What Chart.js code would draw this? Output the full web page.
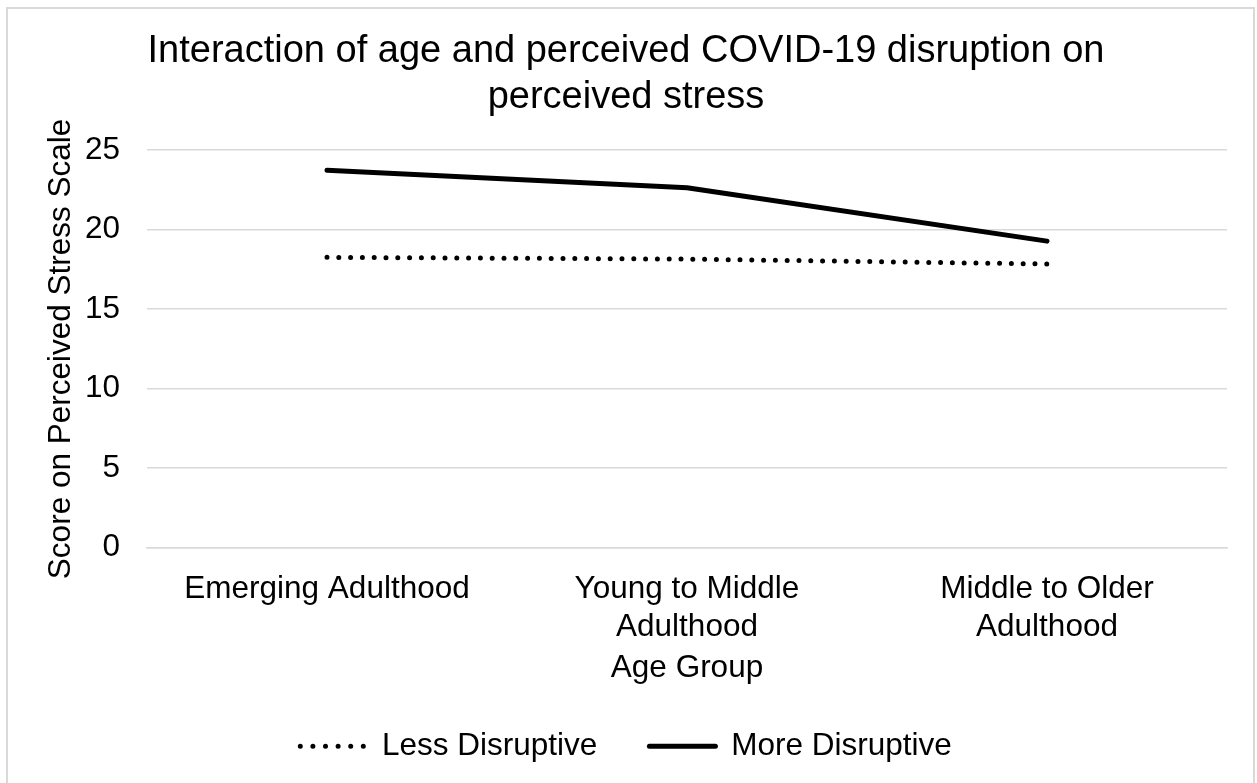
<!DOCTYPE html>
<html>
<head>
<meta charset="utf-8">
<script src="https://cdn.jsdelivr.net/npm/chart.js@4/dist/chart.umd.min.js"></script>
<style>
  html, body { margin: 0; padding: 0; background: #fff; }
  #wrap { width: 1257px; height: 783px; position: relative; }
</style>
</head>
<body>
<div id="wrap"><canvas id="c" width="1257" height="783"></canvas></div>
<script>
const categories = [["Emerging Adulthood"], ["Young to Middle", "Adulthood"], ["Middle to Older", "Adulthood"]];
const lessDisruptive = [18.26, 18.15, 17.84];
const moreDisruptive = [23.74, 22.64, 19.28];
const yMin = 0;
const yMax = 25;
const yStep = 5;
const titleLines = ["Interaction of age and perceived COVID-19 disruption on", "perceived stress"];
const xTitle = "Age Group";
const yTitle = "Score on Perceived Stress Scale";

const FONT = "'Liberation Sans', Arial, Helvetica, sans-serif";
const GRID = "#d9d9d9";

const framePlugin = {
  id: 'frame',
  beforeDraw(chart) {
    const ctx = chart.ctx;
    ctx.save();
    ctx.fillStyle = '#ffffff';
    ctx.fillRect(0, 0, chart.width, chart.height);
    ctx.strokeStyle = GRID;
    ctx.lineWidth = 2;
    ctx.strokeRect(7, 8, 1247, 800);
    ctx.restore();
  }
};

new Chart(document.getElementById('c'), {
  type: 'line',
  data: {
    labels: categories,
    datasets: [
      {
        label: 'Less Disruptive',
        data: lessDisruptive,
        borderColor: '#000',
        backgroundColor: '#000',
        borderWidth: 5,
        borderDash: [0, 11.8],
        borderCapStyle: 'round',
        pointRadius: 0,
        pointHoverRadius: 0,
        tension: 0,
        fill: false
      },
      {
        label: 'More Disruptive',
        data: moreDisruptive,
        borderColor: '#000',
        backgroundColor: '#000',
        borderWidth: 5,
        borderCapStyle: 'round',
        borderJoinStyle: 'round',
        pointRadius: 0,
        pointHoverRadius: 0,
        tension: 0,
        fill: false
      }
    ]
  },
  options: {
    responsive: false,
    animation: false,
    devicePixelRatio: 1,
    layout: { padding: { left: 25, right: 30, top: 10, bottom: 11 } },
    plugins: {
      title: {
        display: true,
        text: titleLines,
        color: '#000',
        font: { family: FONT, size: 38, weight: 'normal', lineHeight: 1.2 },
        padding: { top: 19, bottom: 30 }
      },
      legend: {
        display: true,
        position: 'bottom',
        labels: {
          color: '#000',
          font: { family: FONT, size: 31.5 },
          usePointStyle: true,
          pointStyle: 'line',
          pointStyleWidth: 66,
          padding: 52,
          generateLabels(chart) {
            const items = Chart.defaults.plugins.legend.labels.generateLabels(chart);
            items.forEach((it) => {
              const ds = chart.data.datasets[it.datasetIndex];
              it.lineWidth = ds.borderWidth;
              it.lineDash = ds.borderDash ? [0, 12.6] : [];
              it.lineCap = ds.borderCapStyle;
              it.strokeStyle = '#000';
              it.fillStyle = '#000';
              it.pointStyle = 'line';
            });
            return items;
          }
        }
      },
      tooltip: { enabled: false }
    },
    scales: {
      x: {
        offset: true,
        grid: { display: false, drawTicks: false },
        border: { display: true, color: GRID, width: 1.5 },
        ticks: {
          color: '#000',
          font: { family: FONT, size: 31.5, lineHeight: 1.2 },
          padding: 23,
          maxRotation: 0,
          autoSkip: false
        },
        title: {
          display: true,
          text: xTitle,
          color: '#000',
          font: { family: FONT, size: 31.5, lineHeight: 1.2 },
          padding: { top: -19.5, bottom: -9 }
        }
      },
      y: {
        min: yMin,
        max: yMax,
        grid: { color: GRID, lineWidth: 1.5, drawTicks: false },
        border: { display: false },
        ticks: {
          stepSize: yStep,
          color: '#000',
          font: { family: FONT, size: 31.5 },
          padding: 27
        },
        title: {
          display: true,
          text: yTitle,
          color: '#000',
          font: { family: FONT, size: 31.5, lineHeight: 1.2 },
          padding: { top: 17, bottom: 0 }
        },
        afterFit(scale) { scale.width = 122; }
      }
    }
  },
  plugins: [framePlugin]
});
</script>
</body>
</html>
